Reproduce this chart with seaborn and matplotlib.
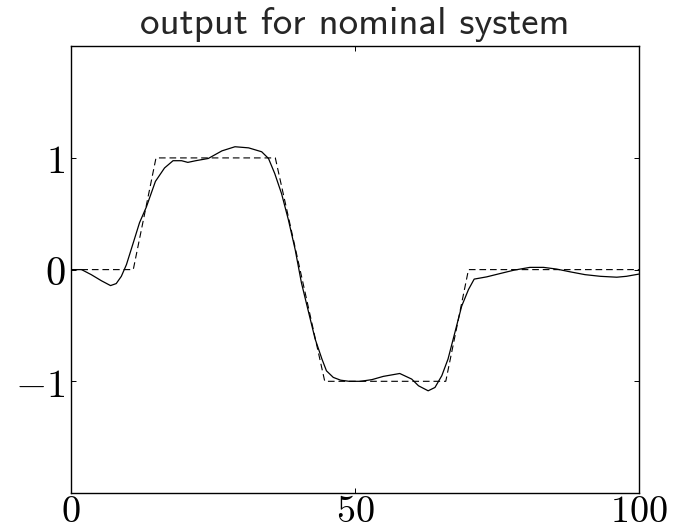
import matplotlib
matplotlib.use("Agg")
import matplotlib.pyplot as plt
import seaborn as sns
import pandas as pd

# Closed-loop output of the nominal plant (solid)
t_out = [0, 1.9, 3.6, 5.4, 7.0, 8.0, 8.9, 9.8, 11.0, 12.1,
         13.3, 14.9, 16.5, 18.0, 19.5, 20.6, 22.0, 24.2, 26.6, 28.9,
         31.3, 33.6, 34.8, 35.9, 37.1, 38.3, 39.5, 40.6, 41.8, 43.0,
         44.2, 45.0, 46.2, 47.5, 49.0, 51.0, 53.0, 55.0, 57.9, 60.0,
         61.2, 62.9, 64.1, 65.3, 66.4, 67.6, 68.8, 70.0, 71.0, 73.2,
         75.5, 78.0, 80.8, 83.2, 85.5, 87.9, 90.5, 93.2, 96.1, 97.8, 100]
y_out = [0, 0, -0.045, -0.10, -0.143, -0.125, -0.06, 0.045, 0.24, 0.42,
         0.56, 0.79, 0.91, 0.975, 0.975, 0.96, 0.975, 0.995, 1.063, 1.10,
         1.09, 1.055, 0.995, 0.86, 0.68, 0.446, 0.178, -0.119, -0.37, -0.62,
         -0.80, -0.906, -0.965, -0.99, -1.0, -1.0, -0.985, -0.956, -0.93, -0.98,
         -1.04, -1.085, -1.055, -0.95, -0.80, -0.564, -0.327, -0.178, -0.085, -0.065,
         -0.036, -0.005, 0.02, 0.02, 0.005, -0.02, -0.045, -0.06, -0.068, -0.06, -0.04]

# Reference trajectory (dashed)
t_ref = [0, 11, 15, 36, 44.7, 66, 70, 100]
y_ref = [0, 0, 1, 1, -1, -1, 0, 0]

x_ticks = [0, 50, 100]
x_ticklabels = ["$0$", "$50$", "$100$"]
y_ticks = [-1, 0, 1]
y_ticklabels = ["$-1$", "$0$", "$1$"]
title = "output for nominal system"

sns.set_style("ticks")
plt.rcParams["mathtext.fontset"] = "cm"
plt.rcParams["axes.linewidth"] = 1.0

out_df = pd.DataFrame({"t": t_out, "y": y_out})
ref_df = pd.DataFrame({"t": t_ref, "y": y_ref})

fig = plt.figure(figsize=(6.74, 5.30), dpi=100)
ax = fig.add_axes([0.105, 0.0698, 0.843, 0.843])

sns.lineplot(data=ref_df, x="t", y="y", ax=ax, color="black", lw=0.8,
             estimator=None, sort=False, dashes=False, linestyle=(0, (6, 3.5)))
sns.lineplot(data=out_df, x="t", y="y", ax=ax, color="black", lw=0.9,
             estimator=None, sort=False)

ax.set_xlim(0, 100)
ax.set_ylim(-2, 2)
ax.set_xticks(x_ticks)
ax.set_xticklabels(x_ticklabels)
ax.set_yticks(y_ticks)
ax.set_yticklabels(y_ticklabels)
ax.set_xlabel("")
ax.set_ylabel("")
ax.tick_params(direction="in", length=3.5, width=0.7, labelsize=29,
               top=True, right=True, colors="black")
ax.tick_params(axis="x", pad=0.5, labelsize=27.5)
ax.tick_params(axis="y", pad=4)
for s in ax.spines.values():
    s.set_visible(True)
    s.set_color("black")
ax.set_title(title, family="cmss10", fontsize=28, pad=9)

fig.savefig("out.png", dpi=100, facecolor="white")
